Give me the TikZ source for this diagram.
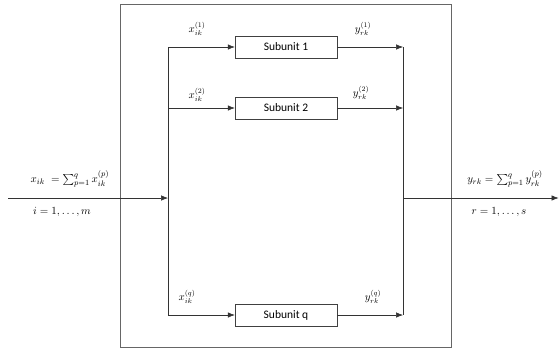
\documentclass[tikz,border=0pt]{standalone}
\usepackage{amsmath}
\usepackage{fontspec}
\setsansfont{Carlito}
\usepackage{tikz}
\usetikzlibrary{arrows.meta}
\usetikzlibrary{positioning}
\usetikzlibrary{calc}
\newcommand{\unode}[3]{\node(#1)[unit] at (#2){Subunit #3}}
\newcommand{\flowlabel}[3]{\node(#1)[flow] at (#2){\ensuremath{#3}}}

\begin{document}
\begin{tikzpicture}[
        x=1pt, y=-1pt, >={Latex[length=7pt,width=5.5pt]},
        every node/.style={font=\fontsize{11}{13}\selectfont},
        unit/.style={rectangle,minimum height=22pt,minimum width=102pt,
                     inner sep=0pt,draw=black!75,
                     font=\sffamily\fontsize{11.5}{13}\selectfont},
        flow/.style={inner sep=0pt,font=\fontsize{10.5}{12}\selectfont},
        wire/.style={draw=black!80,semithick}
      ]
      \useasboundingbox (0,0) rectangle (559,349);

      % The outer frame holding all subunits
      \node(frame)[rectangle,draw=black!60,semithick,minimum width=331pt,
                   minimum height=343pt,inner sep=0pt] at (285.5,175.5) {};

      % Subunits, stacked in one column
      \unode{u1}{286,47}{1};
      \unode{u2}{286,108}{2};
      \unode{uq}{286,315}{q};

      % Corner points of the two buses
      \coordinate (in) at (8,198);
      \coordinate (lb) at (168,198);
      \coordinate (l1) at (168,47);
      \coordinate (l2) at (168,108);
      \coordinate (lq) at (168,315);
      \coordinate (r1) at (403,47);
      \coordinate (r2) at (403,108);
      \coordinate (rq) at (403,315);
      \coordinate (rb) at (403,198);
      \coordinate (out) at (558.5,198);

      % Input and output lines
      \draw[wire,->] (in) -- (lb);
      \draw[wire,->] (rb) -- (out);

      % Buses, then the branches into and out of each subunit
      \draw[wire] (l1) -- (lq);
      \draw[wire] (r1) -- (rq);
      \draw[wire,->] (l1) -- (u1.west);
      \draw[wire,->] (l2) -- (u2.west);
      \draw[wire,->] (lq) -- (uq.west);
      \draw[wire,->] (u1.east) -- (r1);
      \draw[wire,->] (u2.east) -- (r2);
      \draw[wire,->] (uq.east) -- (rq);

      % Labels on the branches
      \flowlabel{x1}{197,29}{x_{ik}^{(1)}};
      \flowlabel{x2}{197,95}{x_{ik}^{(2)}};
      \flowlabel{xq}{187,297}{x_{ik}^{(q)}};
      \flowlabel{y1}{363,29}{y_{rk}^{(1)}};
      \flowlabel{y2}{361,93}{y_{rk}^{(2)}};
      \flowlabel{yq}{373,297}{y_{rk}^{(q)}};

      % Totals on the input and output lines
      \node(xsum) at (70,179) {$x_{ik}\;=\sum_{p=1}^{q}x_{ik}^{(p)}$};
      \node(irange) at (62,212) {$i=1,\ldots,m$};
      \node(ysum) at (505,179) {$y_{rk}=\sum_{p=1}^{q}y_{rk}^{(p)}$};
      \node(rrange) at (499,212) {$r=1,\ldots,s$};
    \end{tikzpicture}
\end{document}
